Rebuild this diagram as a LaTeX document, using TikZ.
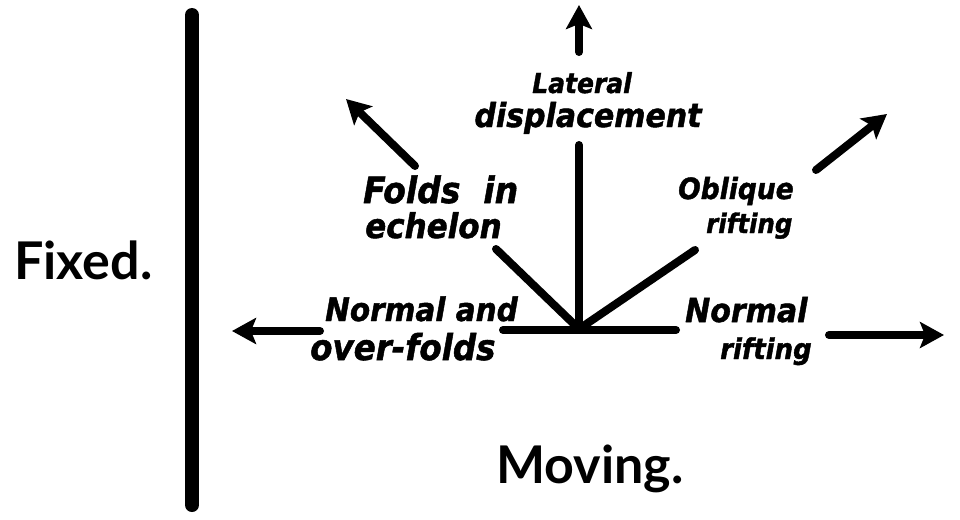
\documentclass[tikz,border=0pt]{standalone}
\usepackage{fontspec}
\usetikzlibrary{arrows.meta}
\newfontfamily\bigfont{Lato}
\newfontfamily\handfont{DejaVu Sans}[BoldItalicFeatures={FakeBold=1.5}]
\newcommand\hsz[2]{\scalebox{1}[1.1]{\fontsize{#1}{#1}\selectfont #2}}
\begin{document}
\begin{tikzpicture}[x=1pt,y=-1pt,
  bar/.style={line width=14pt,line cap=round},
  stroke/.style={line width=8pt,line cap=round},
  arr/.style={line width=8pt,line cap=round,-{Stealth[length=24pt,width=26pt,inset=5pt]}},
  big/.style={font=\bigfont\bfseries\fontsize{52}{56}\selectfont,inner sep=0pt},
  lbl/.style={font=\handfont\bfseries\itshape,inner sep=0pt}]
\useasboundingbox (0,0) rectangle (960,519);
% fixed wall
\coordinate (bt) at (192,15);
\coordinate (bb) at (192,505);
\draw[bar] (bt) -- (bb);
\node[big,anchor=base west] (fixed) at (14,279) {Fixed.};
\node[big,anchor=base west] (moving) at (496,483) {Moving.};
% star
\coordinate (c) at (579,329);
\coordinate (hl) at (503,330);
\coordinate (hr) at (676,330);
\coordinate (vt) at (579,145);
\coordinate (dl) at (496,249);
\coordinate (dr) at (695,250);
\draw[stroke] (hl) -- (hr);
\draw[stroke] (c) -- (vt);
\draw[stroke] (c) -- (dl);
\draw[stroke] (c) -- (dr);
% arrows
\coordinate (a1s) at (579,52);  \coordinate (a1e) at (579,5);
\coordinate (a2s) at (415,166); \coordinate (a2e) at (346,99);
\coordinate (a3s) at (816,170); \coordinate (a3e) at (887,114);
\coordinate (a4s) at (320,331); \coordinate (a4e) at (232,331);
\coordinate (a5s) at (829,335); \coordinate (a5e) at (944,335);
\draw[arr] (a1s) -- (a1e);
\draw[arr] (a2s) -- (a2e);
\draw[arr] (a3s) -- (a3e);
\draw[arr] (a4s) -- (a4e);
\draw[arr] (a5s) -- (a5e);
% labels
\node[lbl,anchor=base] (lat1) at (582,93) {\hsz{25}{Lateral}};
\node[lbl,anchor=base] (lat2) at (588,127) {\hsz{30}{displacement}};
\node[lbl,anchor=base west] (fold1) at (363,203) {\hsz{33}{Folds\ \ in}};
\node[lbl,anchor=base west] (fold2) at (365,238) {\hsz{31}{echelon}};
\node[lbl,anchor=base west] (obl1) at (678,199) {\hsz{26.5}{Oblique}};
\node[lbl,anchor=base west] (obl2) at (706,233) {\hsz{24.5}{rifting}};
\node[lbl,anchor=base west] (nof1) at (325,321) {\hsz{29.5}{Normal and}};
\node[lbl,anchor=base west] (nof2) at (310,360) {\hsz{32.5}{over-folds}};
\node[lbl,anchor=base west] (nr1) at (685,322) {\hsz{30}{Normal}};
\node[lbl,anchor=base west] (nr2) at (720,359) {\hsz{26}{rifting}};
\end{tikzpicture}
\end{document}
